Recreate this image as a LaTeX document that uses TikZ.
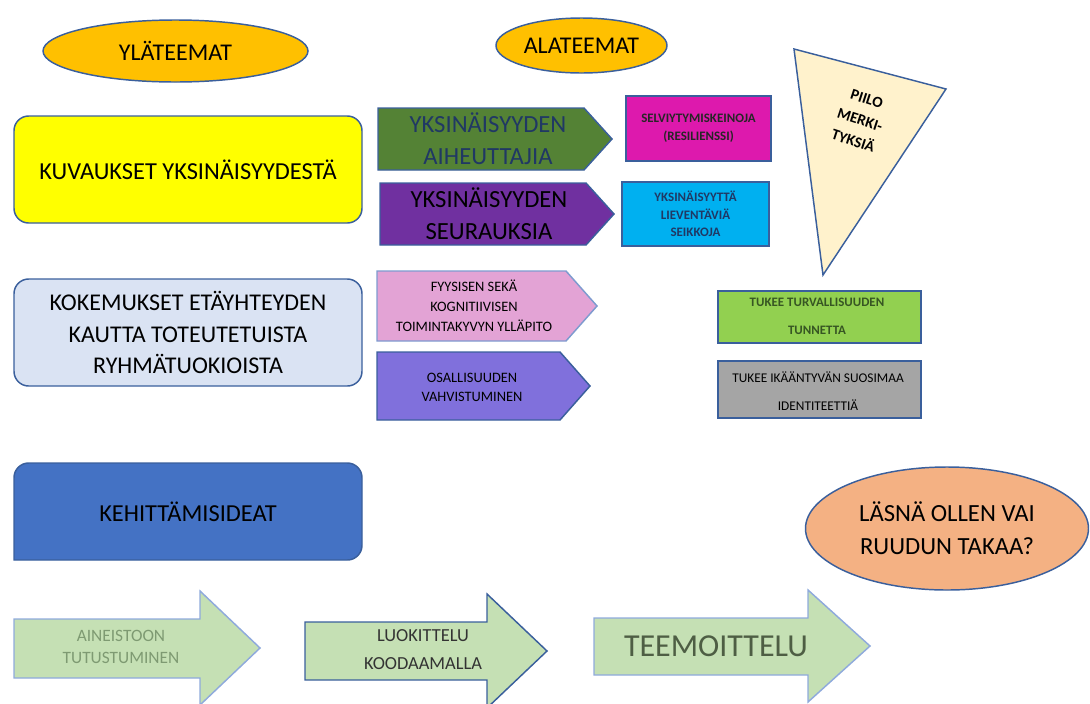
\documentclass[tikz,border=0pt]{standalone}
\usepackage{fontspec}
\setmainfont{Carlito}
\usetikzlibrary{shapes.geometric}
\definecolor{bord}{HTML}{3A5F9C}
\definecolor{orng}{HTML}{FFC000}
\definecolor{yel}{HTML}{FFFF00}
\definecolor{lblue}{HTML}{DAE3F3}
\definecolor{mblue}{HTML}{4472C4}
\definecolor{dgreen}{HTML}{548235}
\definecolor{purp}{HTML}{7030A0}
\definecolor{magen}{HTML}{DD19AD}
\definecolor{cyanb}{HTML}{00B0F0}
\definecolor{cream}{HTML}{FFF2CC}
\definecolor{pinkp}{HTML}{E3A3D5}
\definecolor{violet}{HTML}{8070DC}
\definecolor{lgreen}{HTML}{92D050}
\definecolor{greyb}{HTML}{A5A5A5}
\definecolor{salmon}{HTML}{F4B183}
\definecolor{pale}{HTML}{C5E0B4}
\definecolor{navy}{HTML}{203864}
\definecolor{txtg}{HTML}{375623}
\definecolor{lbord}{HTML}{8FAADC}
\definecolor{ainc}{HTML}{7E9A72}
\definecolor{teec}{HTML}{4E5E44}
\begin{document}
\begin{tikzpicture}[x=0.75pt,y=-0.75pt,
  shp/.style={draw=bord,line width=1.1pt},
  ell/.style={shp,ellipse,inner sep=0pt},
  txt/.style={align=center,inner sep=0pt,font=#1},
  txt/.default=\fontsize{16}{20}\selectfont]
\useasboundingbox (0,0) rectangle (1090,704);

% top ellipses
\node[ell,fill=orng,minimum width=198.75pt,minimum height=46.5pt] (yla) at (175.5,51) {};
\node[txt={\fontsize{18}{20}\selectfont}] (ylat) at (yla.center) {YLÄTEEMAT};
\node[ell,fill=orng,minimum width=128.25pt,minimum height=41.25pt] (ala) at (581.5,45.5) {};
\node[txt={\fontsize{18}{20}\selectfont}] (alat) at (ala.center) {ALATEEMAT};

% left rounded boxes
\node[shp,fill=yel,rounded corners=11pt,minimum width=261pt,minimum height=80.25pt] (kuv) at (188,169.5) {};
\node[txt={\fontsize{18.3}{20}\selectfont}] (kuvt) at (kuv.center) {KUVAUKSET YKSINÄISYYDESTÄ};
\node[shp,fill=lblue,rounded corners=11pt,minimum width=261pt,minimum height=80.25pt] (kok) at (188,332.5) {};
\node[txt={\fontsize{18}{23.6}\selectfont}] (kokt) at (kok.center) {KOKEMUKSET ETÄYHTEYDEN\\KAUTTA TOTEUTETUISTA\\RYHMÄTUOKIOISTA};
\draw[shp,fill=mblue] (14,560) -- (14,478) [rounded corners=11pt] -- (14,463) -- (362,463) [sharp corners] -- (362,545) [rounded corners=11pt] -- (362,560) [sharp corners] -- (14,560) -- cycle;
\node[txt={\fontsize{18.3}{20}\selectfont}] (keh) at (188,512) {KEHITTÄMISIDEAT};

% pentagons
\draw[shp,fill=dgreen] (378,108) -- (584,108) -- (612,139) -- (584,170) -- (378,170) -- cycle;
\node[txt={\fontsize{18.5}{24}\selectfont\color{navy}}] (aih) at (488,139) {YKSINÄISYYDEN\\AIHEUTTAJIA};
\draw[shp,fill=purp] (380,183) -- (586,183) -- (614,214) -- (586,245) -- (380,245) -- cycle;
\node[txt={\fontsize{18.5}{24}\selectfont\color{black}}] (seu) at (489,214) {YKSINÄISYYDEN\\SEURAUKSIA};
\draw[shp,draw=lbord!80!bord,fill=pinkp] (377,271) -- (566,271) -- (597,306) -- (566,341) -- (377,341) -- cycle;
\node[txt={\fontsize{10.8}{15}\selectfont}] (fyy) at (474,306) {FYYSISEN SEKÄ\\KOGNITIIVISEN\\TOIMINTAKYVYN YLLÄPITO};
\draw[shp,fill=violet] (377,352) -- (560,352) -- (590,386) -- (560,420) -- (377,420) -- cycle;
\node[txt={\fontsize{10.8}{14.3}\selectfont}] (osa) at (472,387) {OSALLISUUDEN\\VAHVISTUMINEN};

% small rects
\node[shp,fill=magen,minimum width=108.75pt,minimum height=48.75pt] (sel) at (698.5,128.5) {};
\node[txt={\fontsize{9.7}{13.5}\selectfont\bfseries\color{black!85}}] (selt) at (sel.center) {SELVIYTYMISKEINOJA\\(RESILIENSSI)};
\node[shp,fill=cyanb,minimum width=110.25pt,minimum height=48pt] (lie) at (695.5,214) {};
\node[txt={\fontsize{9.7}{13}\selectfont\bfseries\color{navy}}] (liet) at (lie.center) {YKSINÄISYYTTÄ\\LIEVENTÄVIÄ\\SEIKKOJA};
\node[shp,fill=lgreen,minimum width=152.25pt,minimum height=39pt] (tur) at (819.5,317) {};
\node[txt={\fontsize{9.7}{21}\selectfont\bfseries\color{txtg}}] (turt) at (817,316) {TUKEE TURVALLISUUDEN\\TUNNETTA};
\node[shp,fill=greyb,minimum width=152.25pt,minimum height=42.75pt] (ide) at (819.5,389.5) {};
\node[txt={\fontsize{10}{21}\selectfont}] (idet) at (818,391) {TUKEE IKÄÄNTYVÄN SUOSIMAA\\IDENTITEETTIÄ};

% triangle
\draw[shp,fill=cream] (794,49) -- (946,89) -- (823,275) -- cycle;
\node[txt={\fontsize{11.5}{16.5}\selectfont\bfseries},rotate=-18] (pii) at (860,120) {PIILO\\MERKI-\\TYKSIÄ};

% right ellipse
\node[ell,fill=salmon,minimum width=212.25pt,minimum height=92.25pt] (las) at (947,528.5) {};
\node[txt={\fontsize{18.5}{25}\selectfont}] (last) at (las.center) {LÄSNÄ OLLEN VAI\\RUUDUN TAKAA?};

% bottom arrows
\draw[shp,draw=lbord,fill=pale] (14,619) -- (200,619) -- (200,591) -- (260,648) -- (200,705) -- (200,678) -- (14,678) -- cycle;
\node[txt={\fontsize{13}{16}\selectfont\color{ainc}}] (ain) at (121,647) {AINEISTOON\\TUTUSTUMINEN};
\draw[shp,fill=pale] (305,622) -- (487,622) -- (487,594) -- (547,651) -- (487,708) -- (487,680) -- (305,680) -- cycle;
\node[txt={\fontsize{13.8}{21}\selectfont\color{black!80}}] (luo) at (423,650) {LUOKITTELU\\KOODAAMALLA};
\draw[shp,draw=lbord,fill=pale] (594,618) -- (808,618) -- (808,590) -- (870,646) -- (808,702) -- (808,675) -- (594,675) -- cycle;
\node[txt={\fontsize{24}{26}\selectfont\color{teec}}] (tee) at (716,646) {TEEMOITTELU};
\end{tikzpicture}
\end{document}
